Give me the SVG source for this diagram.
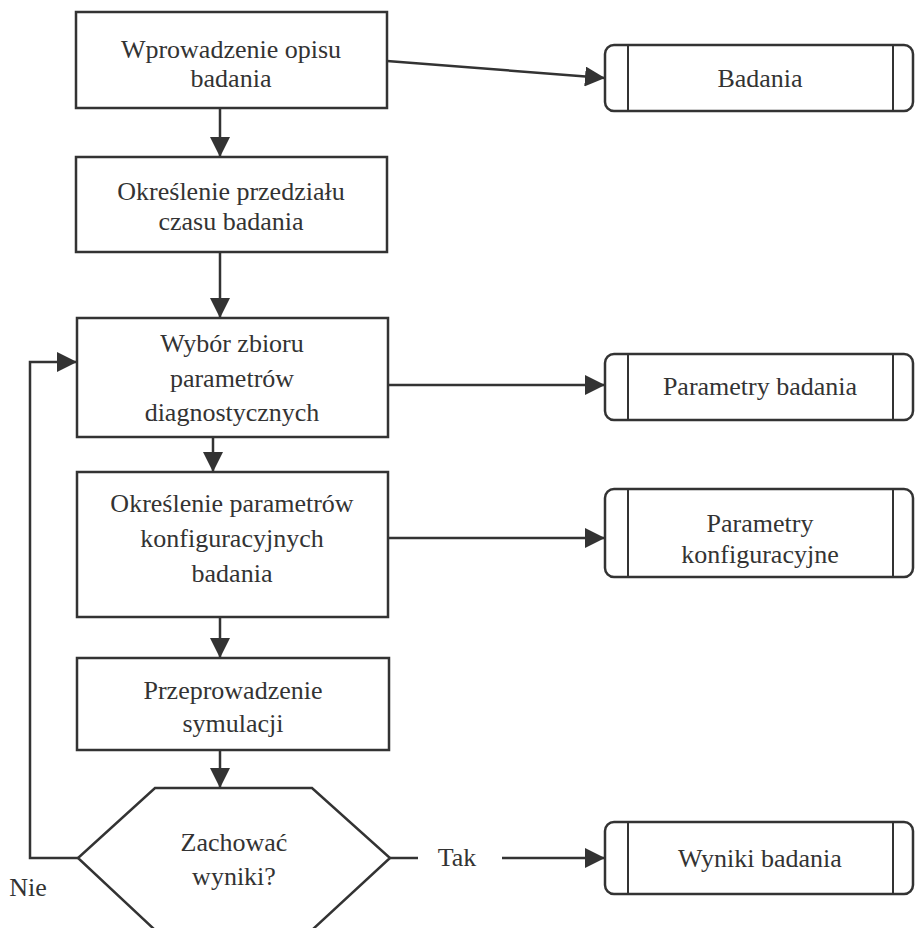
<svg xmlns="http://www.w3.org/2000/svg" width="916" height="928" viewBox="0 0 916 928">
  <defs>
    <marker id="arrow" markerWidth="20" markerHeight="20" refX="20" refY="10" orient="auto" markerUnits="userSpaceOnUse" viewBox="0 0 20 20">
      <path d="M0,0 L20,10 L0,20 Z" fill="#333"/>
    </marker>
    <style>
      .box { fill: #fff; stroke: #333; stroke-width: 2.5; }
      .store { fill: #fff; stroke: #333; stroke-width: 2.5; }
      .bar { stroke: #333; stroke-width: 2; fill: none; }
      .edge { fill: none; stroke: #333; stroke-width: 2.5; }
      .edge-a { fill: none; stroke: #333; stroke-width: 2.5; marker-end: url(#arrow); }
    </style>
  </defs>
  <rect width="916" height="928" fill="#fff"/>

  <!-- connectors -->
  <g id="connectors">
    <line class="edge-a" x1="220" y1="108" x2="220" y2="157"/>
    <line class="edge-a" x1="220" y1="252" x2="220" y2="318"/>
    <line class="edge-a" x1="213" y1="437" x2="213" y2="472"/>
    <line class="edge-a" x1="220" y1="617" x2="220" y2="658"/>
    <line class="edge-a" x1="220" y1="750" x2="220" y2="788"/>
    <line class="edge-a" x1="387" y1="61" x2="605" y2="78"/>
    <line class="edge-a" x1="388" y1="385" x2="605" y2="385"/>
    <line class="edge-a" x1="388" y1="538" x2="605" y2="538"/>
    <polyline class="edge-a" points="78,858 30,858 30,362 77,362"/>
    <line class="edge" x1="390" y1="858" x2="418" y2="858"/>
    <line class="edge-a" x1="502" y1="858" x2="605" y2="858"/>
  </g>

  <!-- branch labels -->
  <g id="branch-labels" font-family="Liberation Serif" font-size="26" fill="#333" text-anchor="middle">
    <text x="457" y="866">Tak</text>
    <text x="28" y="896">Nie</text>
  </g>

  <!-- process steps -->
  <g id="step-opis" font-family="Liberation Serif" font-size="26" fill="#333" text-anchor="middle">
    <rect class="box" x="76" y="12" width="311" height="96"/>
    <text x="231" y="58">Wprowadzenie opisu</text>
    <text x="231" y="87">badania</text>
  </g>
  <g id="step-czas" font-family="Liberation Serif" font-size="26" fill="#333" text-anchor="middle">
    <rect class="box" x="76" y="157" width="311" height="95"/>
    <text x="231" y="200">Określenie przedziału</text>
    <text x="231" y="230">czasu badania</text>
  </g>
  <g id="step-zbior" font-family="Liberation Serif" font-size="26" fill="#333" text-anchor="middle">
    <rect class="box" x="77" y="318" width="311" height="119"/>
    <text x="232" y="352">Wybór zbioru</text>
    <text x="232" y="387">parametrów</text>
    <text x="232" y="421">diagnostycznych</text>
  </g>
  <g id="step-konfig" font-family="Liberation Serif" font-size="26" fill="#333" text-anchor="middle">
    <rect class="box" x="77" y="472" width="311" height="145"/>
    <text x="232" y="512">Określenie parametrów</text>
    <text x="232" y="547">konfiguracyjnych</text>
    <text x="232" y="582">badania</text>
  </g>
  <g id="step-symulacja" font-family="Liberation Serif" font-size="26" fill="#333" text-anchor="middle">
    <rect class="box" x="77" y="658" width="312" height="92"/>
    <text x="233" y="699">Przeprowadzenie</text>
    <text x="233" y="732">symulacji</text>
  </g>
  <g id="decision" font-family="Liberation Serif" font-size="26" fill="#333" text-anchor="middle">
    <polygon class="box" points="155,788 312,788 390,858 312,930 155,930 78,858"/>
    <text x="234" y="851">Zachować</text>
    <text x="234" y="885">wyniki?</text>
  </g>

  <!-- data stores -->
  <g id="store-badania" font-family="Liberation Serif" font-size="26" fill="#333" text-anchor="middle">
    <rect class="store" x="605" y="45" width="308" height="66" rx="9"/>
    <line class="bar" x1="628" y1="45" x2="628" y2="111"/>
    <line class="bar" x1="893" y1="45" x2="893" y2="111"/>
    <text x="760" y="87">Badania</text>
  </g>
  <g id="store-parametry" font-family="Liberation Serif" font-size="26" fill="#333" text-anchor="middle">
    <rect class="store" x="605" y="354" width="308" height="66" rx="9"/>
    <line class="bar" x1="628" y1="354" x2="628" y2="420"/>
    <line class="bar" x1="893" y1="354" x2="893" y2="420"/>
    <text x="760" y="395">Parametry badania</text>
  </g>
  <g id="store-konfig" font-family="Liberation Serif" font-size="26" fill="#333" text-anchor="middle">
    <rect class="store" x="605" y="489" width="308" height="88" rx="9"/>
    <line class="bar" x1="628" y1="489" x2="628" y2="577"/>
    <line class="bar" x1="893" y1="489" x2="893" y2="577"/>
    <text x="760" y="532">Parametry</text>
    <text x="760" y="563">konfiguracyjne</text>
  </g>
  <g id="store-wyniki" font-family="Liberation Serif" font-size="26" fill="#333" text-anchor="middle">
    <rect class="store" x="605" y="822" width="308" height="72" rx="9"/>
    <line class="bar" x1="628" y1="822" x2="628" y2="894"/>
    <line class="bar" x1="893" y1="822" x2="893" y2="894"/>
    <text x="760" y="867">Wyniki badania</text>
  </g>
</svg>
